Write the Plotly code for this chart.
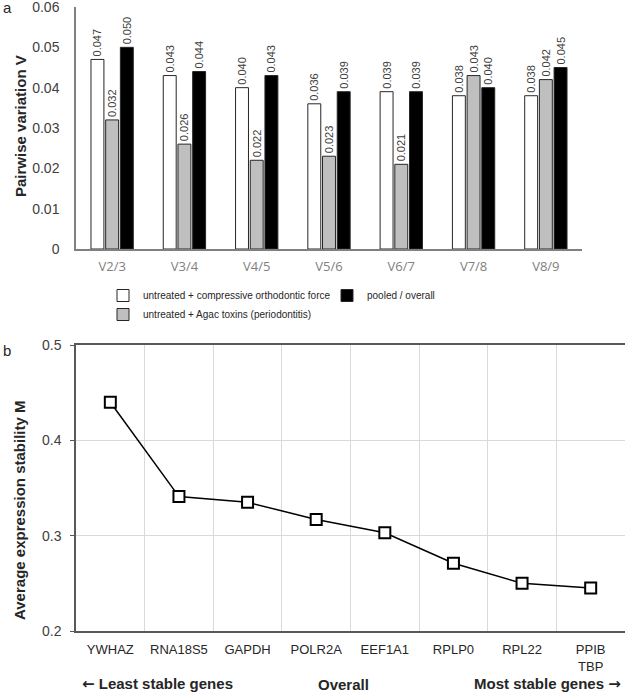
import plotly.graph_objects as go

# ---------------- data ----------------
pairs = ["V2/3", "V3/4", "V4/5", "V5/6", "V6/7", "V7/8", "V8/9"]
v_ortho = [0.047, 0.043, 0.040, 0.036, 0.039, 0.038, 0.038]
v_agac = [0.032, 0.026, 0.022, 0.023, 0.021, 0.043, 0.042]
v_pooled = [0.050, 0.044, 0.043, 0.039, 0.039, 0.040, 0.045]
v_ticks = [0, 0.01, 0.02, 0.03, 0.04, 0.05, 0.06]

genes = ["YWHAZ", "RNA18S5", "GAPDH", "POLR2A", "EEF1A1", "RPLP0", "RPL22", "PPIB<br>TBP"]
m_values = [0.440, 0.341, 0.335, 0.317, 0.303, 0.271, 0.250, 0.245]
m_ticks = [0.2, 0.3, 0.4, 0.5]

series_names = [
    "untreated + compressive orthodontic force",
    "untreated + Agac toxins (periodontitis)",
    "pooled / overall",
]

# ---------------- layout helpers ----------------
W, H = 625, 693
ML = 76
PW = W - ML


def px2x(px):
    return (px - ML) / PW


def py2y(py):
    return 1 - py / H


FONT = "Liberation Sans, Arial, sans-serif"

fig = go.Figure()

bar_styles = [("#ffffff", "legend"), ("#bfbfbf", "legend"), ("#000000", "legend2")]
for name, vals, (col, lg) in zip(series_names, [v_ortho, v_agac, v_pooled], bar_styles):
    fig.add_trace(go.Bar(
        x=pairs, y=vals, name=name,
        marker=dict(color=col, line=dict(color="#262626", width=1)),
        text=[f"{v:.3f}" for v in vals],
        textposition="outside", textangle=-90, constraintext="none",
        textfont=dict(family=FONT, size=11, color="#404040"),
        cliponaxis=False, hoverinfo="skip",
        xaxis="x", yaxis="y", legend=lg,
    ))

fig.add_trace(go.Scatter(
    x=genes, y=m_values, mode="lines+markers",
    line=dict(color="#000000", width=1.5),
    marker=dict(symbol="square", size=11, color="#ffffff",
                line=dict(color="#000000", width=2)),
    xaxis="x2", yaxis="y2", showlegend=False, hoverinfo="skip",
))

fig.update_layout(
    width=W, height=H,
    margin=dict(l=ML, r=0, t=0, b=0, autoexpand=False),
    paper_bgcolor="white", plot_bgcolor="white",
    font=dict(family=FONT, color="#262626"),
    barmode="group", bargap=0.39, bargroupgap=0.12,
    xaxis=dict(
        domain=[0, px2x(582)], anchor="y", type="category",
        showline=True, linecolor="#808080", linewidth=1.5,
        ticks="", showgrid=False,
        tickfont=dict(family="Open Sans, sans-serif", size=13, color="#808080"),
        ticklabelstandoff=5,
    ),
    yaxis=dict(
        domain=[py2y(249), py2y(7)], anchor="x", range=[0, 0.06],
        tickmode="array", tickvals=v_ticks, ticktext=[f"{t:g}" for t in v_ticks],
        showline=True, linecolor="#808080", linewidth=1.5,
        showgrid=False, zeroline=False, ticks="",
        tickfont=dict(family=FONT, size=14, color="#404040"),
        ticklabelstandoff=12, ticklabeloverflow="allow",
    ),
    xaxis2=dict(
        domain=[0, 1], anchor="y2", type="category", tickson="boundaries",
        showline=True, linecolor="#595959", linewidth=1.5, mirror=True,
        showgrid=True, gridcolor="#d9d9d9", gridwidth=1, ticks="",
        tickfont=dict(family=FONT, size=13, color="#262626"),
        ticklabelstandoff=6,
    ),
    yaxis2=dict(
        domain=[py2y(631), py2y(345)], anchor="x2", range=[0.2, 0.5],
        tickmode="array", tickvals=m_ticks, ticktext=[f"{t:g}" for t in m_ticks],
        showline=True, linecolor="#595959", linewidth=1.5,
        showgrid=True, gridcolor="#d9d9d9", zeroline=False,
        ticks="outside", ticklen=4, tickcolor="#595959",
        tickfont=dict(family=FONT, size=14, color="#404040"),
        ticklabelstandoff=6,
    ),
    legend=dict(
        x=px2x(103), y=py2y(281), xanchor="left", yanchor="top",
        orientation="v", font=dict(family=FONT, size=10, color="#262626"),
        bgcolor="rgba(0,0,0,0)", tracegroupgap=0,
    ),
    legend2=dict(
        x=px2x(327), y=py2y(281), xanchor="left", yanchor="top",
        orientation="v", font=dict(family=FONT, size=10, color="#262626"),
        bgcolor="rgba(0,0,0,0)",
    ),
    showlegend=True,
)

ARROW = "<span style='font-family:DejaVu Sans'>%s</span>"
ann = [
    dict(text="a", x=px2x(1), y=py2y(8), xanchor="left", yanchor="middle",
         font=dict(size=15, color="#262626")),
    dict(text="b", x=px2x(1), y=py2y(350), xanchor="left", yanchor="middle",
         font=dict(size=15, color="#262626")),
    dict(text="<b>Pairwise variation V</b>", x=px2x(20), y=py2y(126), textangle=-90,
         xanchor="center", yanchor="middle", font=dict(size=15, color="#262626")),
    dict(text="<b>Average expression stability M</b>", x=px2x(20), y=py2y(510), textangle=-90,
         xanchor="center", yanchor="middle", font=dict(size=15, color="#262626")),
    dict(text="<b>" + ARROW % "←" + " Least stable genes</b>", x=px2x(80), y=py2y(684),
         xanchor="left", yanchor="middle", font=dict(size=15, color="#262626")),
    dict(text="<b>Overall</b>", x=px2x(343), y=py2y(684),
         xanchor="center", yanchor="middle", font=dict(size=15, color="#262626")),
    dict(text="<b>Most stable genes " + ARROW % "→" + "</b>", x=px2x(623), y=py2y(684),
         xanchor="right", yanchor="middle", font=dict(size=15, color="#262626")),
]
for a in ann:
    a.update(xref="paper", yref="paper", showarrow=False)
fig.update_layout(annotations=ann)

fig.write_html(
    "out.html",
    config={"displayModeBar": False},
    post_script="document.body.style.margin='0';document.body.style.padding='0';",
)
